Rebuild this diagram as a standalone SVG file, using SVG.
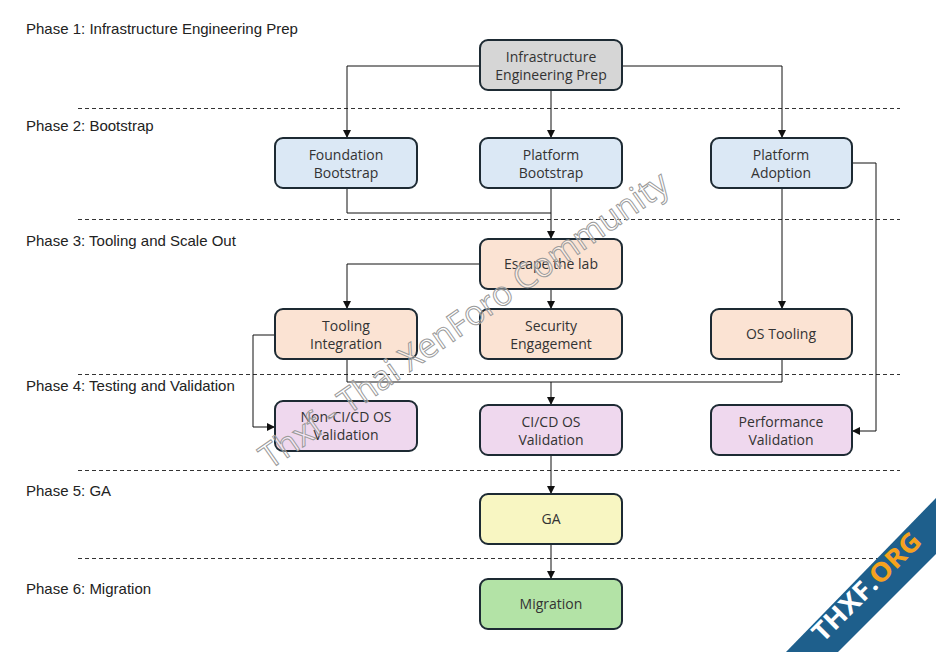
<svg xmlns="http://www.w3.org/2000/svg" width="936" height="652" viewBox="0 0 936 652">
<defs>
<marker id="arr" viewBox="0 0 10 10" refX="10" refY="5" markerWidth="8" markerHeight="8" markerUnits="userSpaceOnUse" orient="auto">
<path d="M0,0 L10,5 L0,10 z" fill="#111"/>
</marker>
</defs>
<style>
.phase{font-family:"Liberation Sans",Arial,sans-serif;font-size:15px;fill:#222}
.sep{stroke:#333;stroke-width:1;stroke-dasharray:4 3;fill:none}
.box{stroke:#1d2a33;stroke-width:2}
.lbl{font-family:"Open Sans","Noto Sans",sans-serif;font-size:14px;fill:#333;text-anchor:middle}
.conn{stroke:#111;stroke-width:1;fill:none}
.gray{fill:#d6d6d6}.blue{fill:#dbe8f5}.peach{fill:#fbe3d3}.lav{fill:#efd8ee}.yel{fill:#f8f6c2}.grn{fill:#b3e3a6}
.wm{font-family:"Open Sans","Liberation Sans",sans-serif;font-size:34px;fill:#ffffff;fill-opacity:0.35;stroke:#9a9a9a;stroke-width:1}
</style>
<rect width="936" height="652" fill="#ffffff"/>
<g id="phases">
<text class="phase" x="26" y="34">Phase 1: Infrastructure Engineering Prep</text>
<text class="phase" x="26" y="131">Phase 2: Bootstrap</text>
<text class="phase" x="26" y="246">Phase 3: Tooling and Scale Out</text>
<text class="phase" x="26" y="391">Phase 4: Testing and Validation</text>
<text class="phase" x="26" y="496">Phase 5: GA</text>
<text class="phase" x="26" y="594">Phase 6: Migration</text>
<line class="sep" x1="78" y1="108.5" x2="900" y2="108.5"/>
<line class="sep" x1="78" y1="219.5" x2="900" y2="219.5"/>
<line class="sep" x1="78" y1="374.5" x2="900" y2="374.5"/>
<line class="sep" x1="78" y1="470.5" x2="900" y2="470.5"/>
<line class="sep" x1="78" y1="558.5" x2="900" y2="558.5"/>
</g>
<g id="connectors">
<polyline class="conn" points="480,66 347,66 347,138" marker-end="url(#arr)"/>
<polyline class="conn" points="551,90 551,138" marker-end="url(#arr)"/>
<polyline class="conn" points="622,66 782,66 782,138" marker-end="url(#arr)"/>
<polyline class="conn" points="347,188 347,213 551,213"/>
<polyline class="conn" points="551,188 551,239" marker-end="url(#arr)"/>
<polyline class="conn" points="480,264 347,264 347,309" marker-end="url(#arr)"/>
<polyline class="conn" points="551,289 551,309" marker-end="url(#arr)"/>
<polyline class="conn" points="782,188 782,309" marker-end="url(#arr)"/>
<polyline class="conn" points="852,163 876,163 876,431 852,431" marker-end="url(#arr)"/>
<polyline class="conn" points="275,335 253,335 253,427 275,427" marker-end="url(#arr)"/>
<polyline class="conn" points="347,359 347,382 782,382 782,359"/>
<polyline class="conn" points="551,382 551,405" marker-end="url(#arr)"/>
<polyline class="conn" points="551,455 551,494" marker-end="url(#arr)"/>
<polyline class="conn" points="551,544 551,579" marker-end="url(#arr)"/>
</g>
<g id="n-infra"><rect class="box gray" x="480" y="40" width="142" height="50" rx="8"/><text class="lbl" x="551" y="62">Infrastructure</text><text class="lbl" x="551" y="80">Engineering Prep</text></g>
<g id="n-foundation"><rect class="box blue" x="275" y="138" width="142" height="50" rx="8"/><text class="lbl" x="346" y="160">Foundation</text><text class="lbl" x="346" y="178">Bootstrap</text></g>
<g id="n-platform-bootstrap"><rect class="box blue" x="480" y="138" width="142" height="50" rx="8"/><text class="lbl" x="551" y="160">Platform</text><text class="lbl" x="551" y="178">Bootstrap</text></g>
<g id="n-platform-adoption"><rect class="box blue" x="711" y="138" width="141" height="50" rx="8"/><text class="lbl" x="781" y="160">Platform</text><text class="lbl" x="781" y="178">Adoption</text></g>
<g id="n-escape"><rect class="box peach" x="480" y="239" width="142" height="50" rx="8"/><text class="lbl" x="551" y="269">Escape the lab</text></g>
<g id="n-tooling"><rect class="box peach" x="275" y="309" width="142" height="50" rx="8"/><text class="lbl" x="346" y="331">Tooling</text><text class="lbl" x="346" y="349">Integration</text></g>
<g id="n-security"><rect class="box peach" x="480" y="309" width="142" height="50" rx="8"/><text class="lbl" x="551" y="331">Security</text><text class="lbl" x="551" y="349">Engagement</text></g>
<g id="n-ostooling"><rect class="box peach" x="711" y="309" width="141" height="50" rx="8"/><text class="lbl" x="781" y="339">OS Tooling</text></g>
<g id="n-nonci"><rect class="box lav" x="275" y="401" width="142" height="50" rx="8"/><text class="lbl" x="346" y="422">Non-CI/CD OS</text><text class="lbl" x="346" y="440">Validation</text></g>
<g id="n-cicd"><rect class="box lav" x="480" y="405" width="142" height="50" rx="8"/><text class="lbl" x="551" y="427">CI/CD OS</text><text class="lbl" x="551" y="445">Validation</text></g>
<g id="n-perf"><rect class="box lav" x="711" y="405" width="141" height="50" rx="8"/><text class="lbl" x="781" y="427">Performance</text><text class="lbl" x="781" y="445">Validation</text></g>
<g id="n-ga"><rect class="box yel" x="480" y="494" width="142" height="50" rx="8"/><text class="lbl" x="551" y="524">GA</text></g>
<g id="n-migration"><rect class="box grn" x="480" y="579" width="142" height="50" rx="8"/><text class="lbl" x="551" y="609">Migration</text></g>
<g id="watermark">
<text class="wm" x="0" y="0" transform="translate(270,470) rotate(-35)" textLength="490" lengthAdjust="spacingAndGlyphs">Thxf - Thai XenForo Community</text>
<polygon points="786,652 838,652 936,554 936,498" fill="#1e5f8c"/>
<text x="0" y="0" transform="translate(873,593) rotate(-45)" text-anchor="middle" font-family="Open Sans, Liberation Sans, sans-serif" font-weight="bold" font-size="26" textLength="142" lengthAdjust="spacingAndGlyphs"><tspan fill="#ffffff">THXF.</tspan><tspan fill="#f5a21e">ORG</tspan></text>
</g>
</svg>
